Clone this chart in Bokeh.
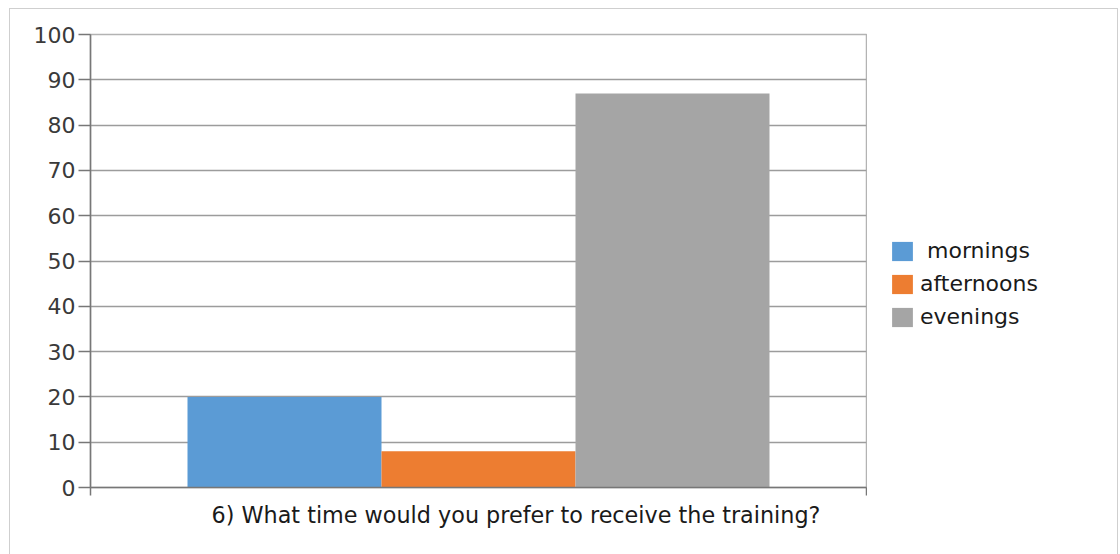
from bokeh.plotting import figure
from bokeh.models import Legend, LegendItem, FixedTicker, Range1d, Title
from bokeh.layouts import row
from bokeh.embed import file_html
from bokeh.resources import INLINE

# Data
question = "6) What time would you prefer to receive the training?"
categories = ["mornings", "afternoons", "evenings"]
legend_labels = [" mornings", "afternoons", "evenings"]
values = [20, 8, 87]
colors = ["#5b9bd5", "#ed7d31", "#a5a5a5"]
y_ticks = [0, 10, 20, 30, 40, 50, 60, 70, 80, 90, 100]

FONT = "DejaVu Sans"

n = len(categories)
x_pos = [i + 1 for i in range(n)]  # group spans 0..n+1

p = figure(width=857, height=546, output_backend="svg", toolbar_location=None,
           x_range=Range1d(0, n + 1), y_range=Range1d(0, 100),
           min_border_left=80, min_border_right=1, min_border_top=25, min_border_bottom=68)
p.background_fill_color = "white"
p.border_fill_color = "white"
p.outline_line_color = "#b3b3b3"
p.outline_line_width = 1.5

for i in range(n):
    p.vbar(x=x_pos[i], top=values[i], width=1.0, bottom=0, fill_color=colors[i], line_color=None)

# grid
p.xgrid.visible = False
p.ygrid.grid_line_color = "#9c9c9c"
p.ygrid.grid_line_width = 1.6
p.ygrid.ticker = FixedTicker(ticks=y_ticks)
p.ygrid.level = "underlay"

# y axis
p.yaxis.ticker = FixedTicker(ticks=y_ticks)
p.yaxis.axis_line_color = "#777777"
p.yaxis.axis_line_width = 1.5
p.yaxis.major_tick_line_color = "#777777"
p.yaxis.major_tick_line_width = 1.5
p.yaxis.major_tick_out = 12
p.yaxis.major_tick_in = 0
p.yaxis.minor_tick_line_color = None
p.yaxis.major_label_standoff = 3
p.yaxis.major_label_text_font = FONT
p.yaxis.major_label_text_font_size = "22px"
p.yaxis.major_label_text_color = "#3a3a3a"

# x axis
p.xaxis.ticker = FixedTicker(ticks=[0, n + 1])
p.xaxis.major_label_overrides = {0: "", n + 1: ""}
p.xaxis.major_label_text_font_size = "1px"
p.xaxis.axis_line_color = "#777777"
p.xaxis.axis_line_width = 1.5
p.xaxis.major_tick_line_color = "#777777"
p.xaxis.major_tick_line_width = 1.5
p.xaxis.major_tick_out = 8
p.xaxis.major_tick_in = 0
p.xaxis.minor_tick_line_color = None

# category caption below the axis
cap = Title(text=question, align="left", offset=121, standoff=9,
            text_font=FONT, text_font_size="22.3px", text_font_style="normal",
            text_color="#1a1a1a")
p.add_layout(cap, "below")

# legend panel (separate canvas so it is not clipped)
lg = figure(width=250, height=546, output_backend="svg", toolbar_location=None,
            x_range=Range1d(0, n + 1), y_range=Range1d(0, 100),
            min_border_left=0, min_border_right=0, min_border_top=0, min_border_bottom=0)
lg.axis.visible = False
lg.grid.visible = False
lg.outline_line_color = None
lg.background_fill_color = "white"
lg.border_fill_color = "white"
rs = []
for i in range(n):
    r = lg.vbar(x=x_pos[i], top=values[i], width=1.0, bottom=0, fill_color=colors[i], line_color=None)
    r.visible = False
    rs.append(r)

items = [LegendItem(label=legend_labels[i], renderers=[rs[i]]) for i in range(n)]
legend = Legend(items=items, location=(22, 158))
legend.glyph_width = 26
legend.glyph_height = 24
legend.spacing = 8
legend.label_standoff = 5
legend.label_height = 24
legend.label_text_font = FONT
legend.label_text_font_size = "22px"
legend.label_text_color = "#1a1a1a"
legend.padding = 0
legend.margin = 0
legend.border_line_color = None
legend.background_fill_alpha = 0
legend.inactive_fill_alpha = 0
lg.add_layout(legend, "center")

layout = row(p, lg)
layout.spacing = 0
layout.styles = {"margin-left": "9px", "margin-top": "8px",
                 "border-left": "1px solid #cfcfcf", "border-top": "1px solid #cfcfcf",
                 "border-right": "1px solid #cfcfcf"}

open("out.html", "w").write(file_html(layout, INLINE))
